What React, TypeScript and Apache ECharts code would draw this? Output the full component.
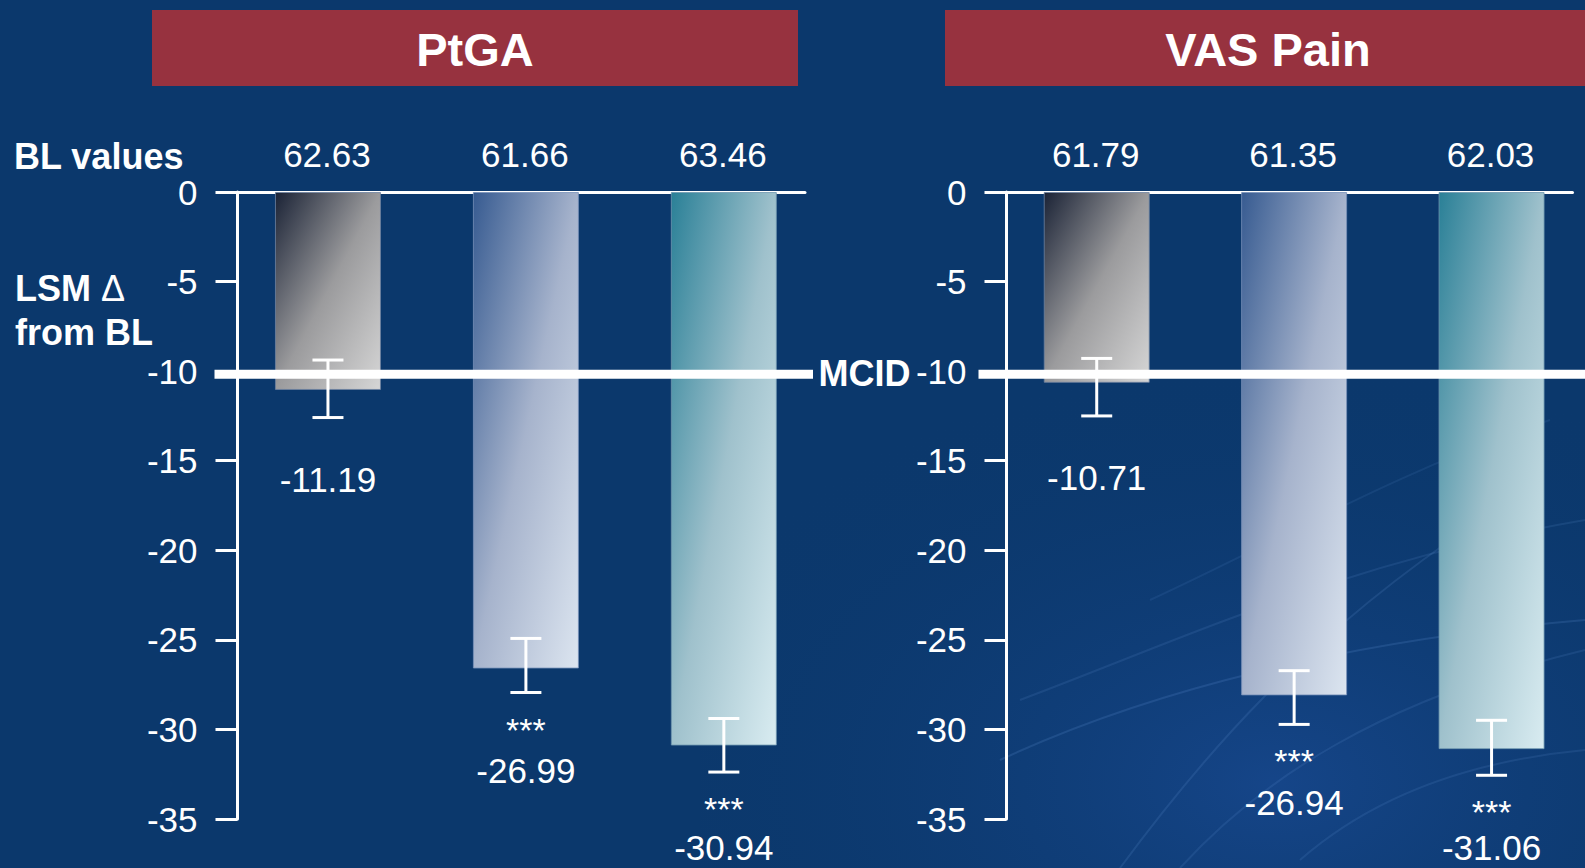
import React, { useEffect, useRef } from 'react';
import * as echarts from 'echarts';

// ---------- data ----------
const panelTitles = ['PtGA', 'VAS Pain'];
const armPositions = [1, 2, 3];
const blPtga = [62.63, 61.66, 63.46];
const blVas = [61.79, 61.35, 62.03];
// reported LSM change from baseline (labels)
const lsmPtga = [-11.19, -26.99, -30.94];
const lsmVas = [-10.71, -26.94, -31.06];
// bar ends as drawn in the figure
const barPtga = [-11.05, -26.6, -30.9];
const barVas = [-10.65, -28.1, -31.1];
// error bar ends
const errUpperPtga = [-9.38, -24.92, -29.39];
const errLowerPtga = [-12.59, -27.94, -32.38];
const errUpperVas = [-9.29, -26.72, -29.49];
const errLowerVas = [-12.5, -29.72, -32.56];
const significance = ['', '***', '***'];
const yMin = -35;
const yMax = 0;
const yInterval = 5;
const mcidValue = -10;

// ---------- styles ----------
const FONT = '"Liberation Sans", Arial, Helvetica, sans-serif';
const BG = '#0b386c';
const HEADER = '#97323f';
const LABEL_MAX_Y = 847;
const barStops = [
  ['#1b2336', '#9b9b9d', '#d6d6d6'],
  ['#375b91', '#a6b3cc', '#dce5f0'],
  ['#2a8097', '#9fc1cc', '#d9ecf1'],
];
const barBorders = ['rgba(110,130,160,0.8)', 'rgba(120,145,185,0.8)', 'rgba(110,150,175,0.8)'];

const grad = (i: number) =>
  new echarts.graphic.LinearGradient(0, 0, 1, 1, [
    { offset: 0, color: barStops[i][0] },
    { offset: 0.5, color: barStops[i][1] },
    { offset: 1, color: barStops[i][2] },
  ]);

const panels = [
  { bl: blPtga, lsm: lsmPtga, bar: barPtga, up: errUpperPtga, low: errLowerPtga, mcidExt: [23, 8] },
  { bl: blVas, lsm: lsmVas, bar: barVas, up: errUpperVas, low: errLowerVas, mcidExt: [28, 16] },
];

function buildOption() {
  const grids = [
    { left: 237.5, top: 192, width: 567.5, height: 627 },
    { left: 1006.5, top: 192, width: 566, height: 627 },
  ];
  const xAxes = grids.map((_, i) => ({
    type: 'value',
    gridIndex: i,
    min: 0.543,
    max: 3.41,
    position: 'top',
    axisLine: { show: true, onZero: false, lineStyle: { color: '#ffffff', width: 3 } },
    axisTick: { show: false },
    axisLabel: { show: false },
    splitLine: { show: false },
  }));
  const yAxes = grids.map((_, i) => ({
    type: 'value',
    gridIndex: i,
    min: yMin,
    max: yMax,
    interval: yInterval,
    axisLine: { show: true, lineStyle: { color: '#ffffff', width: 3 } },
    axisTick: { show: true, length: 22, lineStyle: { color: '#ffffff', width: 3 } },
    axisLabel: { show: true, margin: 40, color: '#ffffff', fontSize: 35, fontFamily: FONT },
    splitLine: { show: false },
  }));

  const series: any[] = [];
  panels.forEach((p, pi) => {
    series.push({
      type: 'bar',
      xAxisIndex: pi,
      yAxisIndex: pi,
      barWidth: 106,
      z: 2,
      data: armPositions.map((a, i) => ({
        value: [a, p.bar[i]],
        itemStyle: { color: grad(i), borderColor: barBorders[i], borderWidth: 1 },
      })),
    });
    // MCID line
    series.push({
      type: 'custom',
      xAxisIndex: pi,
      yAxisIndex: pi,
      z: 5,
      clip: false,
      encode: { x: 0, y: 1 },
      data: [[armPositions[0], mcidValue]],
      renderItem: (params: any, api: any) => {
        const cs = params.coordSys;
        const y = api.coord([api.value(0), api.value(1)])[1] + 3;
        return {
          type: 'line',
          shape: { x1: cs.x - p.mcidExt[0], y1: y, x2: cs.x + cs.width + p.mcidExt[1], y2: y },
          style: { stroke: '#ffffff', lineWidth: 9 },
        };
      },
    });
    // error bars + value labels
    series.push({
      type: 'custom',
      xAxisIndex: pi,
      yAxisIndex: pi,
      z: 6,
      clip: false,
      encode: { x: 0, y: [1, 2] },
      data: armPositions.map((a, i) => [a, p.up[i], p.low[i], p.lsm[i], i]),
      renderItem: (params: any, api: any) => {
        const x = api.value(0);
        const top = api.coord([x, api.value(1)]);
        const bot = api.coord([x, api.value(2)]);
        const idx = api.value(4);
        const sig = significance[idx];
        const cap = 15.5;
        const st = { stroke: '#ffffff', lineWidth: 3 };
        const children: any[] = [
          { type: 'line', shape: { x1: top[0], y1: top[1], x2: bot[0], y2: bot[1] }, style: st },
          { type: 'line', shape: { x1: top[0] - cap, y1: top[1], x2: top[0] + cap, y2: top[1] }, style: st },
          { type: 'line', shape: { x1: bot[0] - cap, y1: bot[1], x2: bot[0] + cap, y2: bot[1] }, style: st },
        ];
        if (sig) {
          children.push({
            type: 'text',
            style: {
              text: sig, x: bot[0], y: bot[1] + 37, fill: '#ffffff',
              fontSize: 34, lineHeight: 26, fontFamily: FONT, align: 'center', verticalAlign: 'middle',
            },
          });
        }
        children.push({
          type: 'text',
          style: {
            text: Number(api.value(3)).toFixed(2), x: bot[0], y: Math.min(bot[1] + (sig ? 78 : 62), LABEL_MAX_Y),
            fill: '#ffffff', fontSize: 35, lineHeight: 26, fontFamily: FONT, align: 'center', verticalAlign: 'middle',
          },
        });
        return { type: 'group', children };
      },
    });
    // baseline values
    series.push({
      type: 'custom',
      xAxisIndex: pi,
      yAxisIndex: pi,
      z: 6,
      clip: false,
      encode: { x: 0, y: 1 },
      data: armPositions.map((a, i) => [a, yMax, p.bl[i]]),
      renderItem: (params: any, api: any) => {
        const pt = api.coord([api.value(0), api.value(1)]);
        return {
          type: 'text',
          style: {
            text: Number(api.value(2)).toFixed(2), x: pt[0] - 1, y: pt[1] - 38, fill: '#ffffff',
            fontSize: 35, fontFamily: FONT, align: 'center', verticalAlign: 'middle',
          },
        };
      },
    });
  });

  const swirl = (x1: number, y1: number, cpx1: number, cpy1: number, cpx2: number, cpy2: number, x2: number, y2: number, a: number) => ({
    type: 'bezierCurve',
    z: -1,
    silent: true,
    shape: { x1, y1, cpx1, cpy1, cpx2, cpy2, x2, y2 },
    style: { stroke: `rgba(120,170,235,${a})`, lineWidth: 2, fill: null },
  });

  const graphic: any[] = [
    {
      type: 'rect', z: -2, silent: true,
      shape: { x: 700, y: 300, width: 885, height: 568 },
      style: {
        fill: new echarts.graphic.RadialGradient(0.65, 0.85, 0.75, [
          { offset: 0, color: 'rgba(30,80,160,0.55)' },
          { offset: 1, color: 'rgba(11,56,108,0)' },
        ]),
      },
    },
    swirl(1000, 760, 1150, 690, 1350, 640, 1585, 620, 0.16),
    swirl(1020, 700, 1180, 640, 1350, 560, 1585, 520, 0.12),
    swirl(1120, 868, 1200, 760, 1300, 640, 1480, 520, 0.14),
    swirl(1180, 868, 1260, 780, 1380, 700, 1585, 650, 0.12),
    swirl(1300, 860, 1380, 790, 1480, 760, 1585, 750, 0.12),
    swirl(1150, 600, 1280, 540, 1400, 470, 1550, 420, 0.1),
    { type: 'rect', shape: { x: 152, y: 10, width: 646, height: 76 }, style: { fill: HEADER } },
    { type: 'rect', shape: { x: 945, y: 10, width: 646, height: 76 }, style: { fill: HEADER } },
    {
      type: 'text', style: { text: panelTitles[0], x: 475, y: 49, fill: '#ffffff', fontSize: 47, fontWeight: 'bold', fontFamily: FONT, align: 'center', verticalAlign: 'middle' },
    },
    {
      type: 'text', style: { text: panelTitles[1], x: 1268, y: 49, fill: '#ffffff', fontSize: 47, fontWeight: 'bold', fontFamily: FONT, align: 'center', verticalAlign: 'middle' },
    },
    {
      type: 'text', style: { text: 'BL values', x: 14, y: 156, fill: '#ffffff', fontSize: 36, fontWeight: 'bold', fontFamily: FONT, align: 'left', verticalAlign: 'middle' },
    },
    {
      type: 'text',
      style: {
        text: '{b|LSM }{d|Δ}', x: 15, y: 288, fill: '#ffffff', fontFamily: FONT, align: 'left', verticalAlign: 'middle',
        rich: {
          b: { fontSize: 36, fontWeight: 'bold', fontFamily: FONT, fill: '#ffffff' },
          d: { fontSize: 36, fontWeight: 'normal', fontFamily: FONT, fill: '#ffffff' },
        },
      },
    },
    {
      type: 'text', style: { text: 'from BL', x: 15, y: 332, fill: '#ffffff', fontSize: 36, fontWeight: 'bold', fontFamily: FONT, align: 'left', verticalAlign: 'middle' },
    },
    {
      type: 'text', style: { text: 'MCID', x: 864.5, y: 373, fill: '#ffffff', fontSize: 36, fontWeight: 'bold', fontFamily: FONT, align: 'center', verticalAlign: 'middle' },
    },
  ];

  return {
    animation: false,
    backgroundColor: BG,
    textStyle: { fontFamily: FONT },
    grid: grids,
    xAxis: xAxes,
    yAxis: yAxes,
    series,
    graphic,
  };
}

export default function App() {
  const ref = useRef<HTMLDivElement>(null);
  useEffect(() => {
    document.body.style.margin = '0';
    document.body.style.background = BG;
    const chart = echarts.init(ref.current as HTMLDivElement, undefined, { renderer: 'svg' });
    chart.setOption(buildOption() as any);
    return () => chart.dispose();
  }, []);
  return <div ref={ref} style={{ width: 1585, height: 868 }} />;
}
